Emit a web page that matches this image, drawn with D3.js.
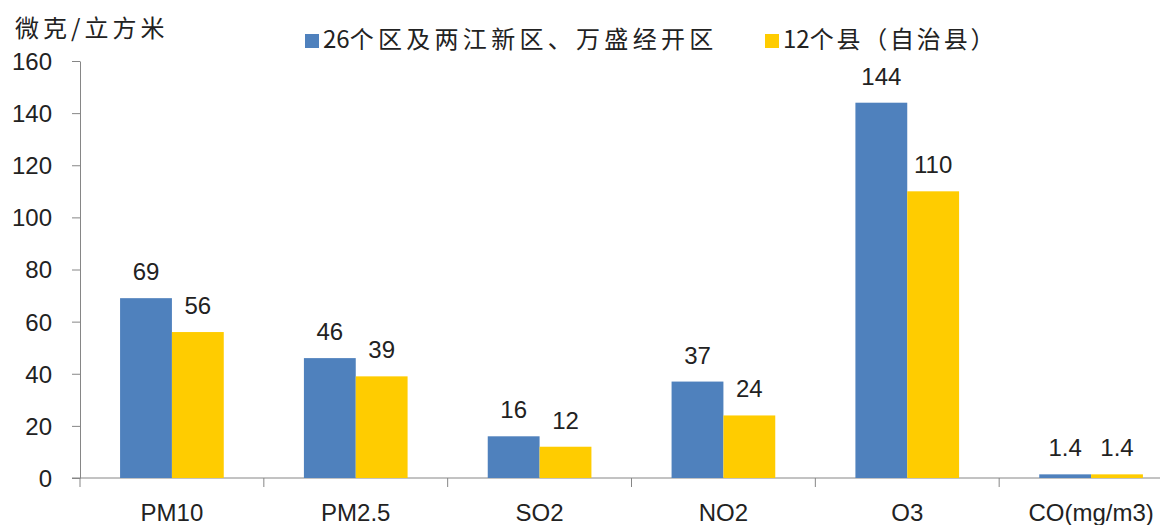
<!DOCTYPE html>
<html>
<head>
<meta charset="utf-8">
<script src="https://cdn.jsdelivr.net/npm/d3@7"></script>
<style>
  body { margin: 0; background: #fff; }
  svg { display: block; }
  text { font-family: "Liberation Sans", "Noto Sans CJK SC", sans-serif; fill: #222; }
  .cjk { font-family: "Noto Sans CJK SC", sans-serif; }
</style>
</head>
<body>
<svg width="1160" height="525"></svg>
<script>
// Data
const categories = ["PM10", "PM2.5", "SO2", "NO2", "O3", "CO(mg/m3)"];
const seriesNames = ["26个区及两江新区、万盛经开区", "12个县（自治县）"];
const districts = [69, 46, 16, 37, 144, 1.4];
const counties = [56, 39, 12, 24, 110, 1.4];
const yTicks = [0, 20, 40, 60, 80, 100, 120, 140, 160];
const colors = ["#4F81BD", "#FFCC00"];

const rows = categories.map((c, i) => ({cat: c, values: [districts[i], counties[i]]}));

// Plot area (the right end runs past the window, as in the reference)
const plotLeft = 80, plotRight = 1183, plotTop = 61, plotBottom = 478;

const svg = d3.select("svg");

const x0 = d3.scaleBand()
  .domain(categories)
  .range([plotLeft, plotRight])
  .padding(0);

const x1 = d3.scaleBand()
  .domain(d3.range(seriesNames.length))
  .range([x0.step() * 0.218, x0.step() * 0.782]);

const y = d3.scaleLinear()
  .domain([0, 160])
  .range([plotBottom, plotTop]);

// Y axis
const yAxis = svg.append("g")
  .attr("transform", `translate(${plotLeft},0)`)
  .call(d3.axisLeft(y).tickValues(yTicks).tickSize(8).tickPadding(20).tickSizeOuter(0));
yAxis.select(".domain").attr("stroke", "#868686");
yAxis.selectAll(".tick line").attr("stroke", "#868686");
yAxis.selectAll(".tick text")
  .attr("font-size", 24)
  .attr("dy", "0.35em")
  .style("font-family", "Liberation Sans")
  .attr("fill", "#222");

// X axis: line plus boundary ticks
svg.append("line")
  .attr("x1", plotLeft - 8).attr("x2", plotRight)
  .attr("y1", y(0)).attr("y2", y(0))
  .attr("stroke", "#868686");

const bounds = d3.range(categories.length + 1).map(i => plotLeft + i * x0.step());
svg.append("g").selectAll("line")
  .data(bounds)
  .join("line")
    .attr("x1", d => d).attr("x2", d => d)
    .attr("y1", y(0)).attr("y2", y(0) + 9)
    .attr("stroke", "#868686");

svg.append("g").selectAll("text")
  .data(categories)
  .join("text")
    .attr("x", d => x0(d) + x0.bandwidth() / 2)
    .attr("y", 521)
    .attr("text-anchor", "middle")
    .attr("font-size", 24)
    .text(d => d);

// Bars
const groups = svg.append("g").selectAll("g")
  .data(rows)
  .join("g")
    .attr("transform", d => `translate(${x0(d.cat)},0)`);

groups.selectAll("rect")
  .data(d => d.values.map((v, i) => ({v, i})))
  .join("rect")
    .attr("x", d => x1(d.i))
    .attr("y", d => y(d.v))
    .attr("width", x1.bandwidth())
    .attr("height", d => y(0) - y(d.v))
    .attr("fill", d => colors[d.i]);

groups.selectAll("text")
  .data(d => d.values.map((v, i) => ({v, i})))
  .join("text")
    .attr("x", d => x1(d.i) + x1.bandwidth() / 2)
    .attr("y", d => y(d.v) - 18)
    .attr("text-anchor", "middle")
    .attr("font-size", 24)
    .text(d => d.v);

// Y axis title
svg.append("text")
  .attr("class", "cjk")
  .attr("x", 15)
  .attr("y", 37)
  .attr("font-size", 24)
  .attr("letter-spacing", 4)
  .text("微克/立方米");

// Legend: digits unspaced, CJK part spaced out a little
const legendX = [305, 765];
const legend = svg.append("g").selectAll("g")
  .data(seriesNames)
  .join("g")
    .attr("transform", (d, i) => `translate(${legendX[i]},34)`);
legend.append("rect")
  .attr("width", 14).attr("height", 14)
  .attr("fill", (d, i) => colors[i]);
const legendText = legend.append("text")
  .attr("class", "cjk")
  .attr("x", 18)
  .attr("y", 14)
  .attr("font-size", 24);
legendText.append("tspan")
  .text(d => d.match(/^\d+/)[0]);
legendText.append("tspan")
  .attr("letter-spacing", (d, i) => i === 0 ? 4.3 : 2.8)
  .text(d => d.replace(/^\d+/, ""));
</script>
</body>
</html>
